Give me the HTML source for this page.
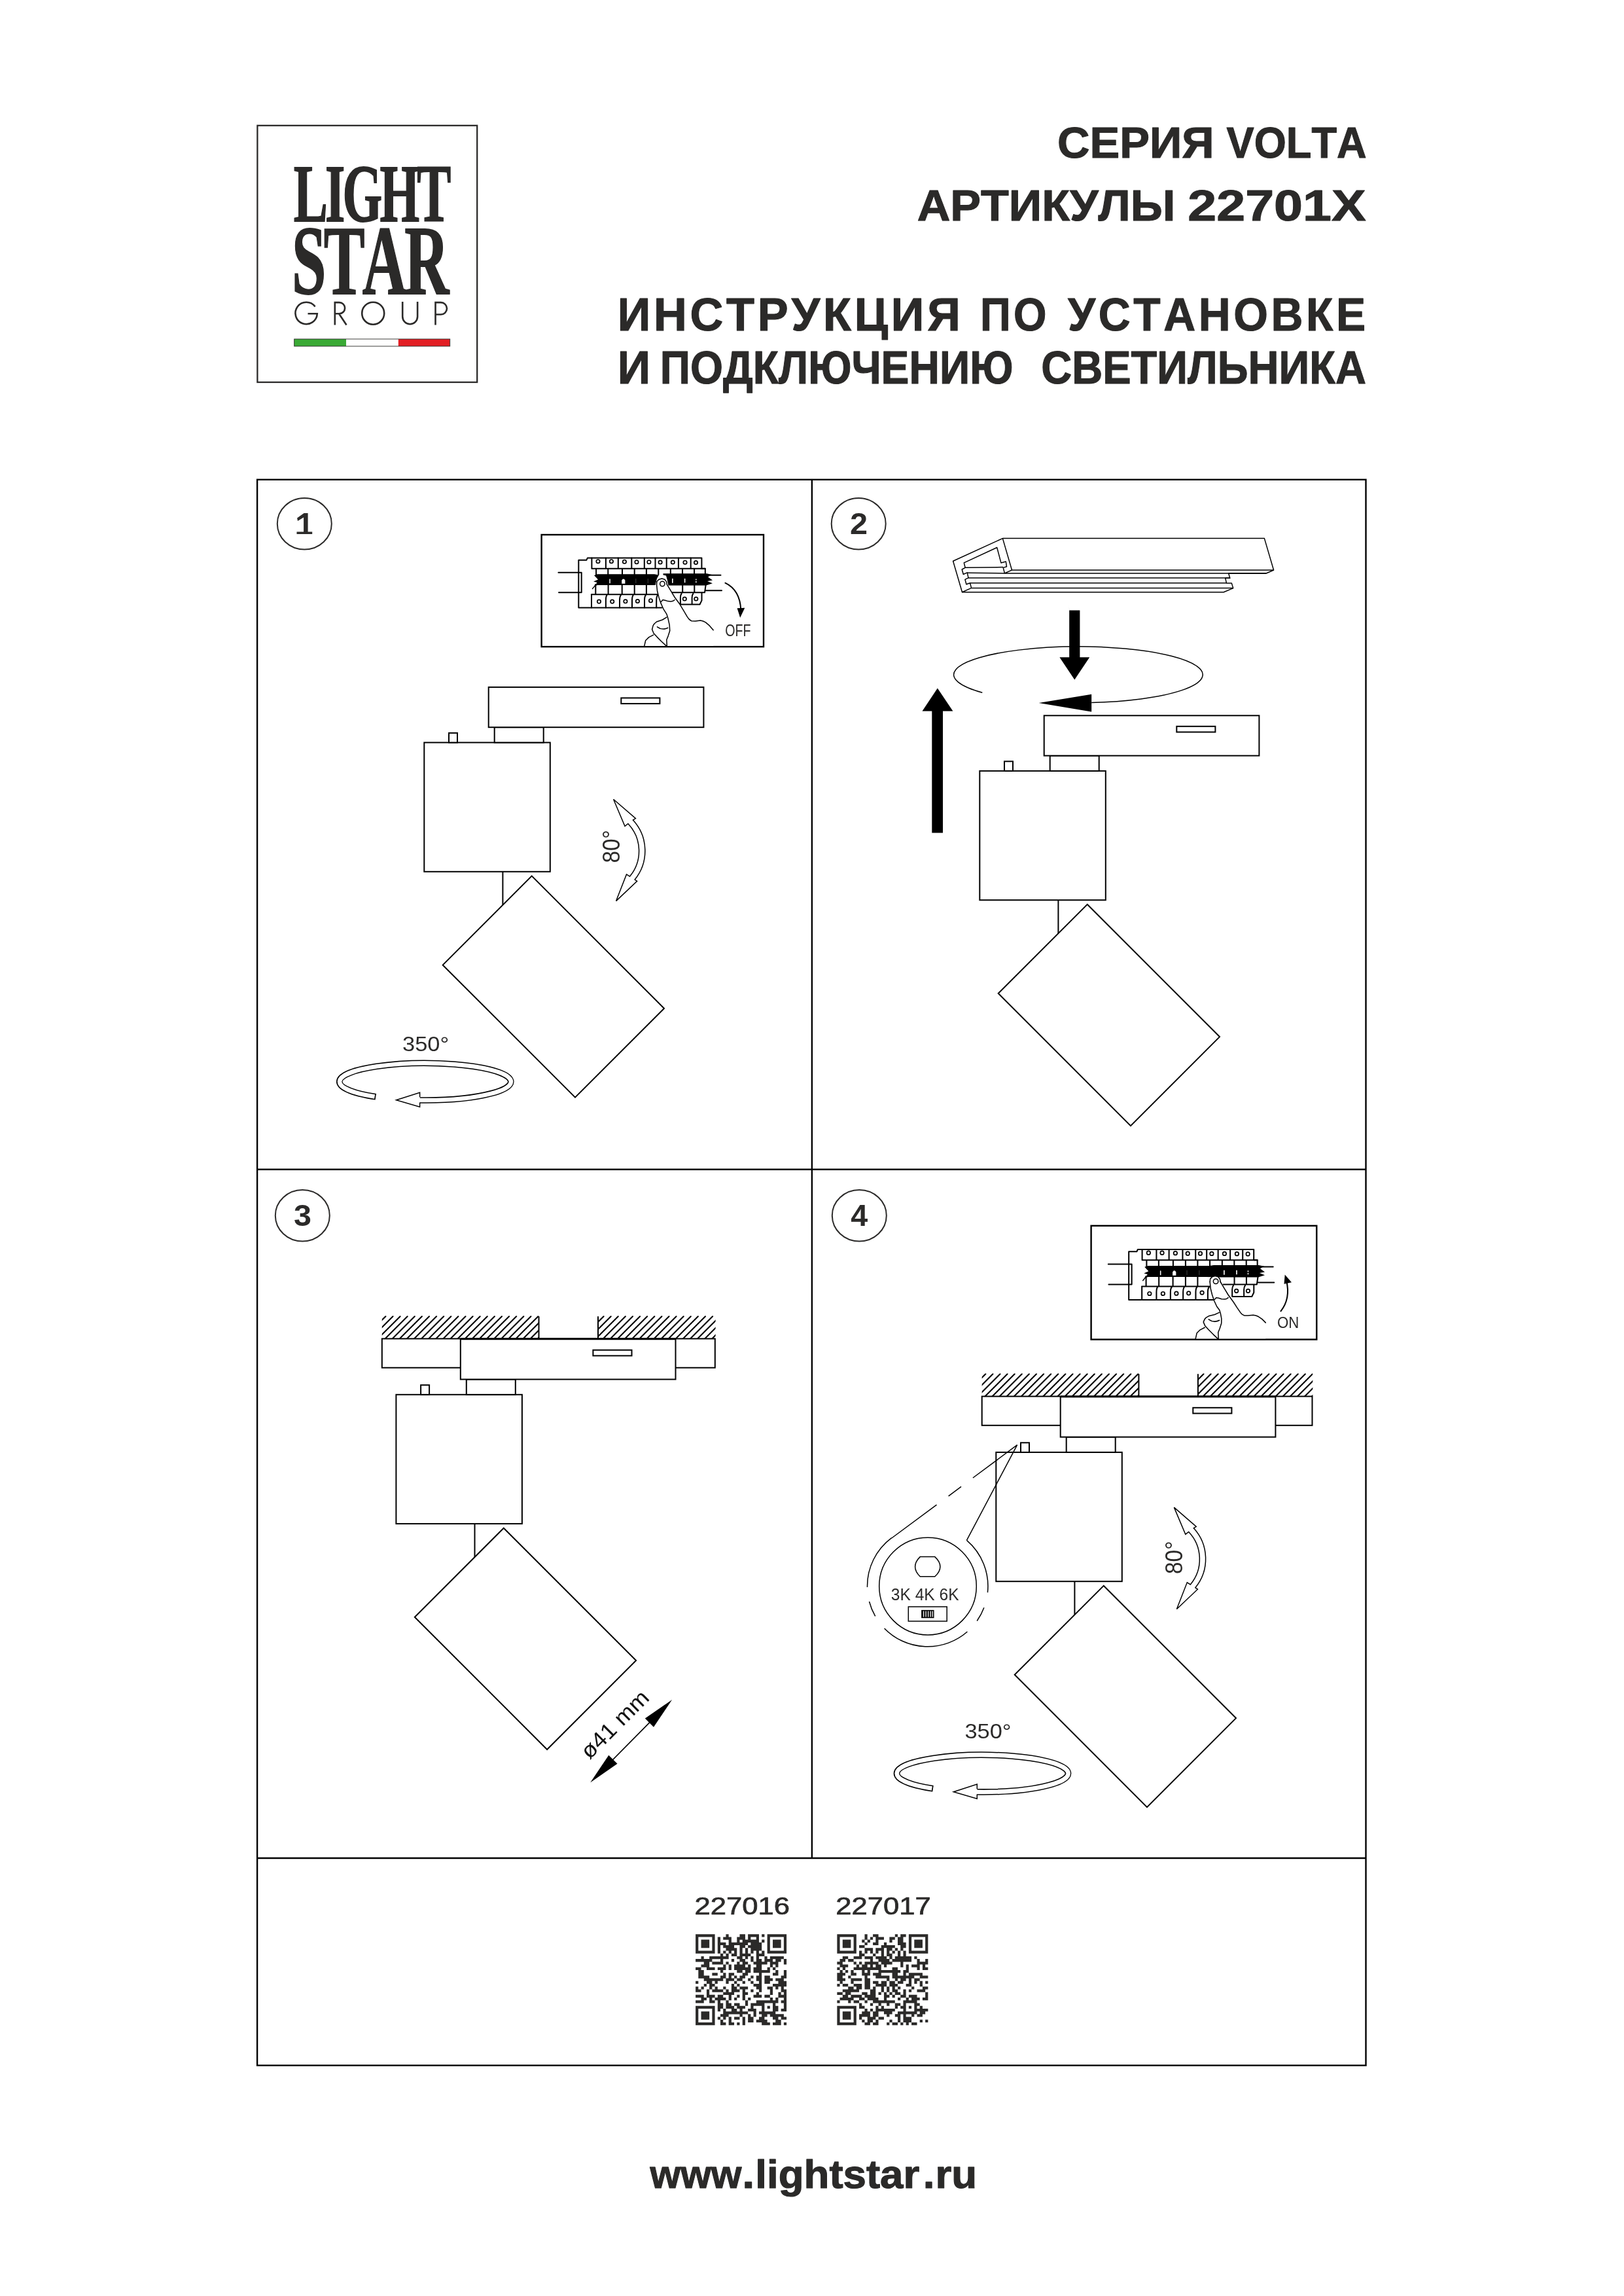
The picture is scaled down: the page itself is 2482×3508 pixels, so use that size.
<!DOCTYPE html>
<html lang="ru"><head><meta charset="utf-8"><title>VOLTA 22701X</title>
<style>
html,body{margin:0;padding:0;background:#fff;}
body{width:2482px;height:3508px;overflow:hidden;font-family:"Liberation Sans",sans-serif;}
svg{display:block;position:absolute;left:0;top:0;will-change:transform;}
text{font-kerning:none;white-space:pre;}
.k{fill:none;stroke:#000;stroke-width:2;stroke-linejoin:miter;}
.w{fill:#fff;stroke:#000;stroke-width:2;stroke-linejoin:miter;}
.f{fill:none;stroke:#000;stroke-width:2.4;}
.b{fill:none;stroke:#000;stroke-width:2;stroke-linejoin:round;stroke-linecap:round;}
.h{fill:none;stroke:#000;stroke-width:1.5;stroke-linejoin:round;stroke-linecap:round;}
</style></head><body>
<svg width="2482" height="3508" viewBox="0 0 2482 3508">
<rect width="2482" height="3508" fill="#fff"/>

<text transform="translate(1616.09,240.90) scale(1.0231,1)" font-family="Liberation Sans" font-weight="bold" font-size="67.01" fill="#2b2a29" stroke="#2b2a29" stroke-width="1.1" stroke-linejoin="round">СЕРИЯ</text>
<text transform="translate(1874.57,240.90) scale(0.9429,1)" font-family="Liberation Sans" font-weight="bold" font-size="67.01" fill="#2b2a29" stroke="#2b2a29" stroke-width="1.1" stroke-linejoin="round">VOLTA</text>
<text transform="translate(1401.65,337.10) scale(1.0440,1)" font-family="Liberation Sans" font-weight="bold" font-size="67.15" fill="#2b2a29" stroke="#2b2a29" stroke-width="1.1" stroke-linejoin="round">АРТИКУЛЫ</text>
<text transform="translate(1815.26,337.10) scale(1.1767,1)" font-family="Liberation Sans" font-weight="bold" font-size="67.15" fill="#2b2a29" stroke="#2b2a29" stroke-width="1.1" stroke-linejoin="round">22701X</text>
<text transform="translate(943.63,505.20) scale(0.9956,1)" font-family="Liberation Sans" font-weight="bold" font-size="70.64" fill="#2b2a29" letter-spacing="4.800" stroke="#2b2a29" stroke-width="1.1" stroke-linejoin="round">ИНСТРУКЦИЯ</text>
<text transform="translate(1497.96,505.20) scale(0.9190,1)" font-family="Liberation Sans" font-weight="bold" font-size="70.64" fill="#2b2a29" letter-spacing="4.800" stroke="#2b2a29" stroke-width="1.1" stroke-linejoin="round">ПО</text>
<text transform="translate(1631.97,505.20) scale(0.9592,1)" font-family="Liberation Sans" font-weight="bold" font-size="70.64" fill="#2b2a29" letter-spacing="4.800" stroke="#2b2a29" stroke-width="1.1" stroke-linejoin="round">УСТАНОВКЕ</text>
<text transform="translate(943.65,586.00) scale(0.9873,1)" font-family="Liberation Sans" font-weight="bold" font-size="70.93" fill="#2b2a29" stroke="#2b2a29" stroke-width="1.1" stroke-linejoin="round">И</text>
<text transform="translate(1008.80,586.00) scale(0.9064,1)" font-family="Liberation Sans" font-weight="bold" font-size="70.93" fill="#2b2a29" stroke="#2b2a29" stroke-width="1.1" stroke-linejoin="round">ПОДКЛЮЧЕНИЮ</text>
<text transform="translate(1591.13,586.00) scale(0.9177,1)" font-family="Liberation Sans" font-weight="bold" font-size="70.93" fill="#2b2a29" stroke="#2b2a29" stroke-width="1.1" stroke-linejoin="round">СВЕТИЛЬНИКА</text>
<text transform="translate(993.48,3343.30) scale(0.9926,1)" font-family="Liberation Sans" font-weight="bold" font-size="60.45" fill="#2b2a29" stroke="#2b2a29" stroke-width="1.1" stroke-linejoin="round">www</text>
<text transform="translate(1134.13,3343.30) scale(1.1372,1)" font-family="Liberation Sans" font-weight="bold" font-size="60.45" fill="#2b2a29" stroke="#2b2a29" stroke-width="1.1" stroke-linejoin="round">.</text>
<text transform="translate(1154.36,3343.30) scale(1.0522,1)" font-family="Liberation Sans" font-weight="bold" font-size="60.45" fill="#2b2a29" stroke="#2b2a29" stroke-width="1.1" stroke-linejoin="round">lightstar</text>
<text transform="translate(1410.67,3343.30) scale(1.0551,1)" font-family="Liberation Sans" font-weight="bold" font-size="60.45" fill="#2b2a29" stroke="#2b2a29" stroke-width="1.1" stroke-linejoin="round">.</text>
<text transform="translate(1429.41,3343.30) scale(1.0519,1)" font-family="Liberation Sans" font-weight="bold" font-size="60.45" fill="#2b2a29" stroke="#2b2a29" stroke-width="1.1" stroke-linejoin="round">ru</text>
<text transform="translate(1061.40,2924.80) scale(1.1682,1)" font-family="Liberation Sans" font-weight="normal" font-size="37.38" fill="#2b2a29" stroke="#2b2a29" stroke-width="0.7">227016</text>
<text transform="translate(1277.31,2924.80) scale(1.1664,1)" font-family="Liberation Sans" font-weight="normal" font-size="37.38" fill="#2b2a29" stroke="#2b2a29" stroke-width="0.7">227017</text>
<rect x="393.4" y="191.8" width="335.8" height="392.2" fill="none" stroke="#2b2a29" stroke-width="2.3"/>
<text transform="translate(448.67,337.70) scale(0.6275,1)" font-family="Liberation Serif" font-weight="bold" font-size="124.32" fill="#2b2a29" letter-spacing="-6.000" stroke="#2b2a29" stroke-width="1.8" stroke-linejoin="miter">LIGHT</text>
<text transform="translate(446.08,448.80) scale(0.6280,1)" font-family="Liberation Serif" font-weight="bold" font-size="150.13" fill="#2b2a29" letter-spacing="-6.000" stroke="#2b2a29" stroke-width="1.8" stroke-linejoin="miter">STAR</text>
<g fill="none" stroke="#2b2a29" stroke-width="2.6" id="group"><path d="M481.6,468.6 A16.7,16.7 0 1 0 484.8,479.2 H470.5"/><path d="M511.8,496.5 V462.1 H518.5 A8.6,8.6 0 0 1 518.5,479.3 H511.8 M518,479.3 L529.5,496.5"/><circle cx="570.2" cy="478.7" r="17"/><path d="M615.2,460.9 V483.8 A11.45,11.45 0 0 0 638.1,483.8 V460.9"/><path d="M665.5,496.5 V462.1 H673.8 A9.2,9.2 0 0 1 673.8,480.5 H665.5"/></g>
<rect x="449.7" y="518" width="79.3" height="11" fill="#3aaa35"/>
<rect x="608.8" y="518" width="78.9" height="11" fill="#e31e24"/>
<rect x="449.7" y="518" width="238" height="11" fill="none" stroke="#2b2a29" stroke-width="0.9"/>
<rect class="f" x="393.1" y="732.8" width="1694.4" height="2422.9"/>
<path class="f" d="M1240.9,732.8 V2839 M393.1,1786.8 H2087.5 M393.1,2839 H2087.5"/>
<ellipse cx="465.3" cy="800.2" rx="41.5" ry="39.2" fill="none" stroke="#2b2a29" stroke-width="2"/>
<ellipse cx="1312.2" cy="800.3" rx="41.5" ry="39.2" fill="none" stroke="#2b2a29" stroke-width="2"/>
<ellipse cx="462.3" cy="1857.3" rx="41.5" ry="39.2" fill="none" stroke="#2b2a29" stroke-width="2"/>
<ellipse cx="1313.3" cy="1857.3" rx="41.5" ry="39.2" fill="none" stroke="#2b2a29" stroke-width="2"/>
<path fill="#2b2a29" d="M470.6,784 H464.6 L454.1,791.4 L455,796 L464.1,790.6 V812.4 H453.5 V816 H477.2 V812.4 H470.6 Z"/>
<text transform="translate(1299.02,816.00) scale(1.0605,1)" font-family="Liberation Sans" font-weight="bold" font-size="45.83" fill="#2b2a29">2</text>
<text transform="translate(448.89,1873.40) scale(1.0546,1)" font-family="Liberation Sans" font-weight="bold" font-size="45.97" fill="#2b2a29">3</text>
<text transform="translate(1300.19,1873.00) scale(1.0066,1)" font-family="Liberation Sans" font-weight="bold" font-size="46.37" fill="#2b2a29">4</text>
<g transform="translate(746.7,1049.9)"><rect class="w" x="-98.4" y="84.6" width="192.5" height="197.3"/>
<rect class="w" x="-60.7" y="70" width="13" height="14.6"/>
<rect class="w" x="9" y="61.3" width="75" height="23.3"/>
<rect class="w" x="0" y="0" width="328.7" height="61.3"/>
<rect class="w" x="202.6" y="16.5" width="59.1" height="8.7"/>
<line class="k" x1="21.7" y1="281.9" x2="21.7" y2="333"/>
<polygon class="w" points="66,288.5 268.3,490.8 132.3,626.8 -70,424.5"/></g>
<g transform="translate(1595.7,1093.3)"><rect class="w" x="-98.4" y="84.6" width="192.5" height="197.3"/>
<rect class="w" x="-60.7" y="70" width="13" height="14.6"/>
<rect class="w" x="9" y="61.3" width="75" height="23.3"/>
<rect class="w" x="0" y="0" width="328.7" height="61.3"/>
<rect class="w" x="202.6" y="16.5" width="59.1" height="8.7"/>
<line class="k" x1="21.7" y1="281.9" x2="21.7" y2="333"/>
<polygon class="w" points="66,288.5 268.3,490.8 132.3,626.8 -70,424.5"/></g>
<g id="brk1"><rect x="827.6" y="817.0" width="339.4" height="171.1" fill="#fff" stroke="#000" stroke-width="2.4"/>
<path class="b" d="M853.4,874.7 H888.7 V905.3 H854"/>
<path class="b" d="M1011.5,928.4 H884.3 V855.8 H896.3 L897.8,852.6 H1072.4 V868.7 H1077.8 V877"/>
<path class="b" d="M904.4,852.6 V868.7 M925.9,852.6 V868.7 M944.8,852.6 V868.7 M965.3,852.6 V868.7 M984.8,852.6 V868.7 M1001.5,852.6 V868.7 M1018.7,852.6 V868.7 M1036.9,852.6 V868.7 M1055.7,852.6 V868.7 M904.4,868.7 H1077.8 M911.1,868.7 V878 M929.3,868.7 V878 M951,868.7 V878 M969.7,868.7 V878 M987.9,868.7 V878 M1006.3,868.7 V878 M1024.8,868.7 V878 M1043,868.7 V878 M1061.1,868.7 V878 M910.3,893 V908.3 M929.6,893 V908.3 M950.7,893 V908.3 M969.7,893 V908.3 M987.9,893 V908.3 M1043.2,893 V905.3 M1061.3,893 V905.3 M903.8,908.3 H1006 M1026.6,905.3 H1077 L1078.6,894 M1080,878.7 H1101.5 M1078.8,902.3 H1103 M904,908.3 V928.4 M927.9,908.6 Q925.9,911 925.9,917 V928.4 M949.5,908.6 Q947,911 947,917 V928.4 M968.2,908.6 Q966,911 966,917 V928.4 M987.4,908.6 Q985,911 985,917 V928.4 M1005.7,908.6 Q1003.2,911 1003.2,917 V928.4 M1041.6,907 Q1039.9,909 1039.9,913 V923.5 H1069.5 L1072.5,917.4 V906 M1059.4,907 Q1057.6,909 1057.6,913 V923.5 "/>
<circle cx="914" cy="857.7" r="2.7" fill="#fff" stroke="#000" stroke-width="1.7"/>
<circle cx="934.4" cy="857.7" r="2.7" fill="#fff" stroke="#000" stroke-width="1.7"/>
<circle cx="954.4" cy="858.2" r="2.7" fill="#fff" stroke="#000" stroke-width="1.7"/>
<circle cx="973" cy="858.7" r="2.7" fill="#fff" stroke="#000" stroke-width="1.7"/>
<circle cx="991.9" cy="858.7" r="2.7" fill="#fff" stroke="#000" stroke-width="1.7"/>
<circle cx="1009.1" cy="859" r="2.7" fill="#fff" stroke="#000" stroke-width="1.7"/>
<circle cx="1028.3" cy="859" r="2.7" fill="#fff" stroke="#000" stroke-width="1.7"/>
<circle cx="1047" cy="859.2" r="2.7" fill="#fff" stroke="#000" stroke-width="1.7"/>
<circle cx="1063.5" cy="859.5" r="2.7" fill="#fff" stroke="#000" stroke-width="1.7"/>
<circle cx="915.5" cy="919.1" r="2.7" fill="#fff" stroke="#000" stroke-width="1.7"/>
<circle cx="935.7" cy="919.1" r="2.7" fill="#fff" stroke="#000" stroke-width="1.7"/>
<circle cx="955.9" cy="918.8" r="2.7" fill="#fff" stroke="#000" stroke-width="1.7"/>
<circle cx="974.4" cy="918.5" r="2.7" fill="#fff" stroke="#000" stroke-width="1.7"/>
<circle cx="994.5" cy="917.7" r="2.7" fill="#fff" stroke="#000" stroke-width="1.7"/>
<circle cx="1046.3" cy="915" r="2.7" fill="#fff" stroke="#000" stroke-width="1.7"/>
<circle cx="1063.8" cy="915" r="2.7" fill="#fff" stroke="#000" stroke-width="1.7"/>
<path fill="#000" d="M908,879 L913,877.2 L1000,877.3 L1007,878.6 L1004,884 L1001.5,893.9 L913,894 L908.5,896 L912.5,890 L907,888.5 L914,885.5 Z"/>
<path fill="#000" d="M1013.5,876.3 L1080,876.3 L1088,878 L1082,881.5 L1089,886.5 L1081,888 L1089,891.3 L1079,894.5 L1021.5,894.5 L1019.8,886 L1018,879.5 L1013.5,878.5 Z"/>
<path class="h" d="M910,893.5 Q908,897 905.5,899.5"/>
<path fill="#fff" d="M931.3,891.2 V885 Q932,883.6 932.8,885 V891.2 Z M950.2,891.7 V886.5 Q952.8,882.5 955.4,886.5 V891.7 Z"/>
<path stroke="#fff" fill="none" stroke-width="1.6" d="M1027.8,884 V890.8 M1046.6,884 V890.2"/>
<path stroke="#fff" fill="none" stroke-width="1.4" d="M1063.8,884.5 V886.6 M1063.8,888 V890.2"/>
<path stroke="#fff" fill="none" stroke-width="0.5" opacity="0.5" d="M971.8,884 V891 M990.3,884 V891"/>
<polygon fill="#fff" points="1003.5,892.8 1003.9,888.5 1007.0,885.2 1011.5,884.0 1015.8,885.2 1018.5,888.6 1019.3,892.8 1025.2,902.7 1031.1,912.5 1039.0,923.3 1044.9,933.2 1050.8,943.1 1053.5,946.5 1057.0,948.8 1062.6,949.0 1070.5,948.0 1074.5,949.0 1078.4,950.9 1084.3,955.9 1090.2,962.8 1090.2,986.9 984.8,986.9 986.7,978.5 991.7,973.6 998.6,970.1 999.1,967.7 996.6,961.8 998.1,955.9 1003.5,950.0 1012.4,947.0 1018.8,943.1 1014.3,931.2 1009.9,921.4 1006.9,912.5 1004.5,902.7"/>
<polyline class="h" points="1003.5,892.8 1004.5,902.7 1006.9,912.5 1009.9,921.4 1014.3,931.2 1018.8,938.1 1020.7,944.0 1023.2,954.9 1023.7,963.7 1021.2,971.6 1018.8,977.5 1019.3,986.9"/>
<polyline class="h" points="1003.5,892.8 1003.9,888.5 1007.0,885.2 1011.5,884.0 1015.8,885.2 1018.5,888.6 1019.3,892.8"/>
<polyline class="h" points="1019.3,892.8 1025.2,902.7 1031.1,912.5 1039.0,923.3 1044.9,933.2 1050.8,943.1 1053.5,946.5 1057.0,948.8 1062.6,949.0 1070.5,948.0 1074.5,949.0 1078.4,950.9 1084.3,955.9 1090.2,962.8"/>
<polyline class="h" points="1018.8,943.1 1012.4,947.0 1003.5,950.0 1000.0,953.0 998.1,955.9 996.6,961.8 999.1,967.7 1004.5,973.6 1011.4,980.5 1018.3,986.9"/>
<polyline class="h" points="998.6,970.1 991.7,973.6 986.7,978.5 984.8,986.9"/>
<circle cx="1012.3" cy="892.0" r="3.7" fill="#fff" stroke="#000" stroke-width="1.5"/>
<polyline class="h" points="1010.4,919.4 1013.0,916.6 1016.5,917.2 1021.0,918.6 1025.2,918.9 1028.5,918.3 1031.1,916.5"/>
<path class="h" d="M1004.5,957.8 Q1012,963.5 1020.7,959.3"/>
<path class="b" d="M1108.4,890.7 Q1131,901.5 1132.3,932"/>
<polygon fill="#000" points="1126.6,929.3 1138.3,928.7 1131.2,943.8"/>
<text transform="translate(1108.27,971.80) scale(0.7890,1)" font-family="Liberation Sans" font-weight="normal" font-size="24.86" fill="#2b2a29">OFF</text></g>
<g id="brk4" transform="translate(1667.6,1872.8) scale(1.0155) translate(-827.6,-817.0)"><rect x="827.6" y="817.0" width="339.4" height="171.1" fill="#fff" stroke="#000" stroke-width="2.4"/>
<path class="b" d="M853.4,874.7 H888.7 V905.3 H854"/>
<path class="b" d="M1011.5,928.4 H884.3 V855.8 H896.3 L897.8,852.6 H1072.4 V868.7 H1077.8 V877"/>
<path class="b" d="M904.4,852.6 V868.7 M925.9,852.6 V868.7 M944.8,852.6 V868.7 M965.3,852.6 V868.7 M984.8,852.6 V868.7 M1001.5,852.6 V868.7 M1018.7,852.6 V868.7 M1036.9,852.6 V868.7 M1055.7,852.6 V868.7 M904.4,868.7 H1077.8 M911.1,868.7 V878 M929.3,868.7 V878 M951,868.7 V878 M969.7,868.7 V878 M987.9,868.7 V878 M1006.3,868.7 V878 M1024.8,868.7 V878 M1043,868.7 V878 M1061.1,868.7 V878 M910.3,893 V908.3 M929.6,893 V908.3 M950.7,893 V908.3 M969.7,893 V908.3 M987.9,893 V908.3 M1043.2,893 V905.3 M1061.3,893 V905.3 M903.8,908.3 H1006 M1026.6,905.3 H1077 L1078.6,894 M1080,878.7 H1101.5 M1078.8,902.3 H1103 M904,908.3 V928.4 M927.9,908.6 Q925.9,911 925.9,917 V928.4 M949.5,908.6 Q947,911 947,917 V928.4 M968.2,908.6 Q966,911 966,917 V928.4 M987.4,908.6 Q985,911 985,917 V928.4 M1005.7,908.6 Q1003.2,911 1003.2,917 V928.4 M1041.6,907 Q1039.9,909 1039.9,913 V923.5 H1069.5 L1072.5,917.4 V906 M1059.4,907 Q1057.6,909 1057.6,913 V923.5 "/>
<circle cx="914" cy="857.7" r="2.7" fill="#fff" stroke="#000" stroke-width="1.7"/>
<circle cx="934.4" cy="857.7" r="2.7" fill="#fff" stroke="#000" stroke-width="1.7"/>
<circle cx="954.4" cy="858.2" r="2.7" fill="#fff" stroke="#000" stroke-width="1.7"/>
<circle cx="973" cy="858.7" r="2.7" fill="#fff" stroke="#000" stroke-width="1.7"/>
<circle cx="991.9" cy="858.7" r="2.7" fill="#fff" stroke="#000" stroke-width="1.7"/>
<circle cx="1009.1" cy="859" r="2.7" fill="#fff" stroke="#000" stroke-width="1.7"/>
<circle cx="1028.3" cy="859" r="2.7" fill="#fff" stroke="#000" stroke-width="1.7"/>
<circle cx="1047" cy="859.2" r="2.7" fill="#fff" stroke="#000" stroke-width="1.7"/>
<circle cx="1063.5" cy="859.5" r="2.7" fill="#fff" stroke="#000" stroke-width="1.7"/>
<circle cx="915.5" cy="919.1" r="2.7" fill="#fff" stroke="#000" stroke-width="1.7"/>
<circle cx="935.7" cy="919.1" r="2.7" fill="#fff" stroke="#000" stroke-width="1.7"/>
<circle cx="955.9" cy="918.8" r="2.7" fill="#fff" stroke="#000" stroke-width="1.7"/>
<circle cx="974.4" cy="918.5" r="2.7" fill="#fff" stroke="#000" stroke-width="1.7"/>
<circle cx="994.5" cy="917.7" r="2.7" fill="#fff" stroke="#000" stroke-width="1.7"/>
<circle cx="1046.3" cy="915" r="2.7" fill="#fff" stroke="#000" stroke-width="1.7"/>
<circle cx="1063.8" cy="915" r="2.7" fill="#fff" stroke="#000" stroke-width="1.7"/>
<path fill="#000" d="M908,879 L913,877.2 L1006,877.3 L1012,876.3 L1080,876.3 L1088,878 L1082,881.5 L1089,886.5 L1081,888 L1089,891.3 L1079,894.5 L1021,894.5 L1001,893.9 L913,894 L908.5,896 L912.5,890 L907,888.5 L914,885.5 Z"/>
<path class="h" d="M910,893.5 Q908,897 905.5,899.5"/>
<path fill="#fff" d="M931.3,891.2 V885 Q932,883.6 932.8,885 V891.2 Z M950.2,891.7 V886.5 Q952.8,882.5 955.4,886.5 V891.7 Z"/>
<path stroke="#fff" fill="none" stroke-width="1.6" d="M1027.8,884 V890.8 M1046.6,884 V890.2"/>
<path stroke="#fff" fill="none" stroke-width="1.4" d="M1063.8,884.5 V886.6 M1063.8,888 V890.2"/>
<path stroke="#fff" fill="none" stroke-width="0.5" opacity="0.5" d="M971.8,884 V891 M990.3,884 V891"/>
<polygon fill="#fff" points="1006.4,901.4 1006.8,897.1 1009.9,893.8 1014.4,892.6 1018.7,893.8 1021.4,897.2 1022.2,901.4 1028.1,911.3 1034.0,921.1 1041.9,931.9 1047.2,940.1 1052.3,947.6 1054.7,950.2 1058.1,952.0 1063.6,952.1 1071.6,951.3 1075.5,952.1 1079.3,953.6 1084.8,957.4 1090.2,962.8 1090.2,986.9 984.8,986.9 986.7,978.5 991.7,973.6 998.6,970.1 999.1,967.7 996.6,961.8 998.6,957.4 1004.5,952.9 1013.6,950.6 1020.3,947.6 1016.8,938.6 1012.8,930.0 1009.8,921.1 1007.4,911.3"/>
<polyline class="h" points="1006.4,901.4 1007.4,911.3 1009.8,921.1 1012.8,930.0 1016.8,938.6 1020.7,943.8 1022.2,948.3 1023.8,956.6 1023.7,963.7 1021.2,971.6 1018.8,977.5 1019.3,986.9"/>
<polyline class="h" points="1006.4,901.4 1006.8,897.1 1009.9,893.8 1014.4,892.6 1018.7,893.8 1021.4,897.2 1022.2,901.4"/>
<polyline class="h" points="1022.2,901.4 1028.1,911.3 1034.0,921.1 1041.9,931.9 1047.2,940.1 1052.3,947.6 1054.7,950.2 1058.1,952.0 1063.6,952.1 1071.6,951.3 1075.5,952.1 1079.3,953.6 1084.8,957.4 1090.2,962.8"/>
<polyline class="h" points="1020.3,947.6 1013.6,950.6 1004.5,952.9 1000.7,955.1 998.6,957.4 996.6,961.8 999.1,967.7 1004.5,973.6 1011.4,980.5 1018.3,986.9"/>
<polyline class="h" points="998.6,970.1 991.7,973.6 986.7,978.5 984.8,986.9"/>
<circle cx="1015.2" cy="900.6" r="3.7" fill="#fff" stroke="#000" stroke-width="1.5"/>
<polyline class="h" points="1013.3,928.0 1015.9,925.2 1019.4,925.8 1023.9,927.2 1028.1,927.5 1031.4,926.9 1034.0,925.1"/>
<path class="h" d="M1004.5,957.8 Q1012,963.5 1020.7,959.3"/>
<path class="b" d="M1113,945.5 Q1128,927 1121.5,899.5"/>
<polygon fill="#000" points="1119.2,890.5 1129.3,902.2 1118,904.5"/>
<text transform="translate(1107.56,970.90) scale(0.9350,1)" font-family="Liberation Sans" font-weight="normal" font-size="23.40" fill="#2b2a29">ON</text></g>
<g transform="translate(0,0)"><path d="M574.29,1675.83 A131.0,28.3 0 1 1 641.35,1680.94" fill="none" stroke="#000" stroke-width="9.6"/><path d="M572.62,1675.57 A131.0,28.3 0 1 1 639.35,1680.94" fill="none" stroke="#fff" stroke-width="6.6"/><path d="M641.6,1676.3 V1669.2 L605.6,1680.8 L641.6,1691.3 V1684.6" fill="#fff" stroke="#000" stroke-width="1.5" stroke-linejoin="miter"/></g>
<text transform="translate(615.09,1606.40) scale(1.0961,1)" font-family="Liberation Sans" font-weight="normal" font-size="31.40" fill="#2b2a29">350°</text>
<path transform="translate(0,0)" fill="#fff" stroke="#000" stroke-width="1.5" stroke-linejoin="miter" d="M937.6,1221.2 L971.4,1250.5 L967.5,1252.9 A69.4,69.4 0 0 1 970.1,1343.9 L973.6,1346.3 L941.6,1376.6 L957.5,1335.9 L962.5,1339.1 A60.6,60.6 0 0 0 959.9,1258.5 L955,1262.3 Z"/>
<g transform="translate(946.6,1317.1) rotate(-90)"><text transform="translate(-1.45,0.00) scale(0.9065,1)" font-family="Liberation Sans" font-weight="normal" font-size="36.81" fill="#2b2a29">80°</text></g>

<g class="k" style="stroke-width:1.5;stroke-linejoin:round">
<path class="w" style="stroke-width:1.5;stroke-linejoin:round" d="M1456.6,857.2 L1532.4,822.6 L1932.4,822.6 L1946.6,871 L1935.2,876 L1877.6,876 L1879.8,883.3 L1872.7,883.3 L1874.5,890.9 L1882.3,890.9 L1884.7,898.6 L1870.2,904.8 L1470.5,904.8 Z"/>
<path d="M1532.4,822.6 L1546.5,871 H1946.6"/>
<path d="M1546.5,871 L1535.4,875.9 H1935.2"/>
<path d="M1535.4,875.9 L1533.2,867.4 L1538.5,865.7 L1537.3,858 L1529.9,859.9 L1523.7,836.5 L1473.3,859.9 L1475.1,867.3 L1470.2,870 L1472.3,877.5 L1478.2,874.9 L1480,882.9 L1474.9,885.4 L1476.9,892.8 L1482.5,890.7 L1484.6,898.4 L1470.5,904.8"/>
<path d="M1475.1,867.3 L1533.2,866.6"/>
<path d="M1478.2,875.2 L1535.4,875.9"/>
<path d="M1480,883 H1879.8"/>
<path d="M1482.5,890.8 H1874.5"/>
<path d="M1484.6,898.5 H1884.7"/>
</g>

<path d="M1501.3,1058.2 A190.3,42.9 0 1 1 1668.2,1073.5" fill="none" stroke="#000" stroke-width="1.5"/>
<polygon points="1587.6,1073.9 1668.2,1060.7 1668.2,1087.6" fill="#000"/>
<path fill="#000" d="M1633.4,924.5 L1634.3,932.5 H1650.4 V1004.2 H1665.2 L1642.3,1038.6 L1619.4,1004.2 H1634.2 V932 Z"/>
<path fill="#000" d="M1432.8,1051.5 L1456.4,1086.6 H1441 V1272.4 H1424.3 V1086.6 H1409.5 Z"/>
<g transform="translate(703.8,2046.2)"><clipPath id="c703a"><rect x="-120.0" y="-36.0" width="239.7" height="35.2"/></clipPath><clipPath id="c703b"><rect x="210.2" y="-36.0" width="179.60000000000002" height="35.2"/></clipPath><path clip-path="url(#c703a)" d="M-148.60,-0.8 L-114.40,-35.0 M-137.50,-0.8 L-103.30,-35.0 M-126.40,-0.8 L-92.20,-35.0 M-115.30,-0.8 L-81.10,-35.0 M-104.20,-0.8 L-70.00,-35.0 M-93.10,-0.8 L-58.90,-35.0 M-82.00,-0.8 L-47.80,-35.0 M-70.90,-0.8 L-36.70,-35.0 M-59.80,-0.8 L-25.60,-35.0 M-48.70,-0.8 L-14.50,-35.0 M-37.60,-0.8 L-3.40,-35.0 M-26.50,-0.8 L7.70,-35.0 M-15.40,-0.8 L18.80,-35.0 M-4.30,-0.8 L29.90,-35.0 M6.80,-0.8 L41.00,-35.0 M17.90,-0.8 L52.10,-35.0 M29.00,-0.8 L63.20,-35.0 M40.10,-0.8 L74.30,-35.0 M51.20,-0.8 L85.40,-35.0 M62.30,-0.8 L96.50,-35.0 M73.40,-0.8 L107.60,-35.0 M84.50,-0.8 L118.70,-35.0 M95.60,-0.8 L129.80,-35.0 M106.70,-0.8 L140.90,-35.0 M117.80,-0.8 L152.00,-35.0 " fill="none" stroke="#000" stroke-width="2.1" stroke-linecap="round"/><path clip-path="url(#c703b)" d="M184.60,-0.8 L218.80,-35.0 M195.70,-0.8 L229.90,-35.0 M206.80,-0.8 L241.00,-35.0 M217.90,-0.8 L252.10,-35.0 M229.00,-0.8 L263.20,-35.0 M240.10,-0.8 L274.30,-35.0 M251.20,-0.8 L285.40,-35.0 M262.30,-0.8 L296.50,-35.0 M273.40,-0.8 L307.60,-35.0 M284.50,-0.8 L318.70,-35.0 M295.60,-0.8 L329.80,-35.0 M306.70,-0.8 L340.90,-35.0 M317.80,-0.8 L352.00,-35.0 M328.90,-0.8 L363.10,-35.0 M340.00,-0.8 L374.20,-35.0 M351.10,-0.8 L385.30,-35.0 M362.20,-0.8 L396.40,-35.0 M373.30,-0.8 L407.50,-35.0 M384.40,-0.8 L418.60,-35.0 " fill="none" stroke="#000" stroke-width="2.1" stroke-linecap="round"/><rect class="w" x="-120.0" y="-0.8" width="509.0" height="44.3"/><path class="k" d="M119.7,-35.0 V-0.8 M210.2,-35.0 V-0.8"/><path d="M0,-0.3 H328.7" stroke="#000" stroke-width="3.6" fill="none"/></g>
<g transform="translate(703.8,2046.2)"><rect class="w" x="-98.4" y="84.6" width="192.5" height="197.3"/>
<rect class="w" x="-60.7" y="70" width="13" height="14.6"/>
<rect class="w" x="9" y="61.3" width="75" height="23.3"/>
<rect class="w" x="0" y="0" width="328.7" height="61.3"/>
<rect class="w" x="202.6" y="16.5" width="59.1" height="8.7"/>
<line class="k" x1="21.7" y1="281.9" x2="21.7" y2="333"/>
<polygon class="w" points="66,288.5 268.3,490.8 132.3,626.8 -70,424.5"/></g>
<path d="M1020,2604.2 L909.5,2716" stroke="#000" stroke-width="1.7" fill="none"/>
<polygon fill="#000" points="1027.1,2597.0 999.0,2638.7 985.8,2625.6"/>
<polygon fill="#000" points="902.2,2723.4 930.3,2681.7 943.5,2694.8"/>
<g transform="translate(901.5,2688.8) rotate(-45)"><text transform="translate(-0.77,0.00) scale(1.0670,1)" font-family="Liberation Sans" font-weight="normal" font-size="33.72" fill="#111">ø41 mm</text></g>
<g transform="translate(1620.7,2134.3)"><clipPath id="c1620a"><rect x="-120.0" y="-36.0" width="239.7" height="35.2"/></clipPath><clipPath id="c1620b"><rect x="210.2" y="-36.0" width="175.40000000000003" height="35.2"/></clipPath><path clip-path="url(#c1620a)" d="M-148.60,-0.8 L-114.40,-35.0 M-137.50,-0.8 L-103.30,-35.0 M-126.40,-0.8 L-92.20,-35.0 M-115.30,-0.8 L-81.10,-35.0 M-104.20,-0.8 L-70.00,-35.0 M-93.10,-0.8 L-58.90,-35.0 M-82.00,-0.8 L-47.80,-35.0 M-70.90,-0.8 L-36.70,-35.0 M-59.80,-0.8 L-25.60,-35.0 M-48.70,-0.8 L-14.50,-35.0 M-37.60,-0.8 L-3.40,-35.0 M-26.50,-0.8 L7.70,-35.0 M-15.40,-0.8 L18.80,-35.0 M-4.30,-0.8 L29.90,-35.0 M6.80,-0.8 L41.00,-35.0 M17.90,-0.8 L52.10,-35.0 M29.00,-0.8 L63.20,-35.0 M40.10,-0.8 L74.30,-35.0 M51.20,-0.8 L85.40,-35.0 M62.30,-0.8 L96.50,-35.0 M73.40,-0.8 L107.60,-35.0 M84.50,-0.8 L118.70,-35.0 M95.60,-0.8 L129.80,-35.0 M106.70,-0.8 L140.90,-35.0 M117.80,-0.8 L152.00,-35.0 " fill="none" stroke="#000" stroke-width="2.1" stroke-linecap="round"/><path clip-path="url(#c1620b)" d="M184.60,-0.8 L218.80,-35.0 M195.70,-0.8 L229.90,-35.0 M206.80,-0.8 L241.00,-35.0 M217.90,-0.8 L252.10,-35.0 M229.00,-0.8 L263.20,-35.0 M240.10,-0.8 L274.30,-35.0 M251.20,-0.8 L285.40,-35.0 M262.30,-0.8 L296.50,-35.0 M273.40,-0.8 L307.60,-35.0 M284.50,-0.8 L318.70,-35.0 M295.60,-0.8 L329.80,-35.0 M306.70,-0.8 L340.90,-35.0 M317.80,-0.8 L352.00,-35.0 M328.90,-0.8 L363.10,-35.0 M340.00,-0.8 L374.20,-35.0 M351.10,-0.8 L385.30,-35.0 M362.20,-0.8 L396.40,-35.0 M373.30,-0.8 L407.50,-35.0 M384.40,-0.8 L418.60,-35.0 " fill="none" stroke="#000" stroke-width="2.1" stroke-linecap="round"/><rect class="w" x="-120.0" y="-0.8" width="504.8" height="44.3"/><path class="k" d="M119.7,-35.0 V-0.8 M210.2,-35.0 V-0.8"/><path d="M0,-0.3 H328.7" stroke="#000" stroke-width="3.6" fill="none"/></g>
<g transform="translate(1620.7,2134.3)"><rect class="w" x="-98.4" y="84.6" width="192.5" height="197.3"/>
<rect class="w" x="-60.7" y="70" width="13" height="14.6"/>
<rect class="w" x="9" y="61.3" width="75" height="23.3"/>
<rect class="w" x="0" y="0" width="328.7" height="61.3"/>
<rect class="w" x="202.6" y="16.5" width="59.1" height="8.7"/>
<line class="k" x1="21.7" y1="281.9" x2="21.7" y2="333"/>
<polygon class="w" points="66,288.5 268.3,490.8 132.3,626.8 -70,424.5"/></g>
<g transform="translate(851.7,1056.9)"><path d="M574.29,1675.83 A131.0,28.3 0 1 1 641.35,1680.94" fill="none" stroke="#000" stroke-width="9.6"/><path d="M572.62,1675.57 A131.0,28.3 0 1 1 639.35,1680.94" fill="none" stroke="#fff" stroke-width="6.6"/><path d="M641.6,1676.3 V1669.2 L605.6,1680.8 L641.6,1691.3 V1684.6" fill="#fff" stroke="#000" stroke-width="1.5" stroke-linejoin="miter"/></g>
<text transform="translate(1474.39,2656.40) scale(1.0961,1)" font-family="Liberation Sans" font-weight="normal" font-size="31.40" fill="#2b2a29">350°</text>
<path transform="translate(856.8,1081.9)" fill="#fff" stroke="#000" stroke-width="1.5" stroke-linejoin="miter" d="M937.6,1221.2 L971.4,1250.5 L967.5,1252.9 A69.4,69.4 0 0 1 970.1,1343.9 L973.6,1346.3 L941.6,1376.6 L957.5,1335.9 L962.5,1339.1 A60.6,60.6 0 0 0 959.9,1258.5 L955,1262.3 Z"/>
<g transform="translate(1806.6,2403.5) rotate(-90)"><text transform="translate(-1.45,0.00) scale(0.9065,1)" font-family="Liberation Sans" font-weight="normal" font-size="36.81" fill="#2b2a29">80°</text></g>
<circle cx="1418" cy="2423.6" r="74.3" fill="#fff" stroke="#000" stroke-width="1.5"/>
<path d="M1362.7,2349.6 A92.2,92.2 0 0 0 1325.5,2424.9 M1328.5,2447.0 A92.2,92.2 0 0 0 1337.7,2469.4 M1351.6,2487.9 A92.2,92.2 0 0 0 1478.4,2493.0 M1493.2,2476.5 A92.2,92.2 0 0 0 1503.9,2456.3 M1509.4,2433.2 A92.2,92.2 0 0 0 1477.7,2353.6 M1477.3,2353.6 L1554.6,2207.7 L1486.9,2258 M1469,2271.4 L1449.6,2285.9 M1431.5,2299.2 L1362.8,2350 " fill="none" stroke="#000" stroke-width="1.5" stroke-linejoin="miter"/>
<path d="M1406.2,2378.6 H1428.8 Q1445,2393.6 1428.8,2408.7 H1406.2 Q1391,2393.6 1406.2,2378.6 Z" fill="none" stroke="#000" stroke-width="1.5"/>
<text transform="translate(1361.87,2444.50) scale(0.9228,1)" font-family="Liberation Sans" font-weight="normal" font-size="26.60" fill="#2b2a29">3K 4K 6K</text>
<rect x="1388.3" y="2454.9" width="58.9" height="22.1" fill="#fff" stroke="#000" stroke-width="1.5"/>
<rect x="1408.1" y="2459.9" width="19.4" height="12.3" fill="#000"/>
<path d="M1411.6,2461.6 V2470.6 M1415.1,2461.6 V2470.6 M1418.6,2461.6 V2470.6 M1422.1,2461.6 V2470.6 M1425.2,2461.6 V2470.6" stroke="#fff" stroke-width="1.3" fill="none"/>
<path fill="#2b2a29" d="M1063.10,2955.20h29.48v4.27h-29.48zM1109.43,2955.20h4.21v4.27h-4.21zM1130.49,2955.20h8.42v4.27h-8.42zM1143.13,2955.20h16.85v4.27h-16.85zM1164.19,2955.20h4.21v4.27h-4.21zM1172.62,2955.20h29.48v4.27h-29.48zM1063.10,2959.41h4.21v4.27h-4.21zM1088.37,2959.41h4.21v4.27h-4.21zM1096.80,2959.41h4.21v4.27h-4.21zM1105.22,2959.41h12.64v4.27h-12.64zM1126.28,2959.41h12.64v4.27h-12.64zM1143.13,2959.41h4.21v4.27h-4.21zM1155.77,2959.41h4.21v4.27h-4.21zM1172.62,2959.41h4.21v4.27h-4.21zM1197.89,2959.41h4.21v4.27h-4.21zM1063.10,2963.62h4.21v4.27h-4.21zM1071.52,2963.62h12.64v4.27h-12.64zM1088.37,2963.62h4.21v4.27h-4.21zM1096.80,2963.62h4.21v4.27h-4.21zM1113.65,2963.62h4.21v4.27h-4.21zM1126.28,2963.62h4.21v4.27h-4.21zM1134.71,2963.62h25.27v4.27h-25.27zM1164.19,2963.62h4.21v4.27h-4.21zM1172.62,2963.62h4.21v4.27h-4.21zM1181.04,2963.62h12.64v4.27h-12.64zM1197.89,2963.62h4.21v4.27h-4.21zM1063.10,2967.84h4.21v4.27h-4.21zM1071.52,2967.84h12.64v4.27h-12.64zM1088.37,2967.84h4.21v4.27h-4.21zM1096.80,2967.84h12.64v4.27h-12.64zM1113.65,2967.84h29.48v4.27h-29.48zM1147.34,2967.84h16.85v4.27h-16.85zM1172.62,2967.84h4.21v4.27h-4.21zM1181.04,2967.84h12.64v4.27h-12.64zM1197.89,2967.84h4.21v4.27h-4.21zM1063.10,2972.05h4.21v4.27h-4.21zM1071.52,2972.05h12.64v4.27h-12.64zM1088.37,2972.05h4.21v4.27h-4.21zM1096.80,2972.05h4.21v4.27h-4.21zM1105.22,2972.05h16.85v4.27h-16.85zM1130.49,2972.05h8.42v4.27h-8.42zM1143.13,2972.05h21.06v4.27h-21.06zM1172.62,2972.05h4.21v4.27h-4.21zM1181.04,2972.05h12.64v4.27h-12.64zM1197.89,2972.05h4.21v4.27h-4.21zM1063.10,2976.26h4.21v4.27h-4.21zM1088.37,2976.26h4.21v4.27h-4.21zM1096.80,2976.26h4.21v4.27h-4.21zM1109.43,2976.26h16.85v4.27h-16.85zM1130.49,2976.26h4.21v4.27h-4.21zM1138.92,2976.26h4.21v4.27h-4.21zM1147.34,2976.26h16.85v4.27h-16.85zM1172.62,2976.26h4.21v4.27h-4.21zM1197.89,2976.26h4.21v4.27h-4.21zM1063.10,2980.47h29.48v4.27h-29.48zM1096.80,2980.47h4.21v4.27h-4.21zM1105.22,2980.47h4.21v4.27h-4.21zM1113.65,2980.47h4.21v4.27h-4.21zM1122.07,2980.47h4.21v4.27h-4.21zM1130.49,2980.47h4.21v4.27h-4.21zM1138.92,2980.47h4.21v4.27h-4.21zM1147.34,2980.47h4.21v4.27h-4.21zM1155.77,2980.47h4.21v4.27h-4.21zM1164.19,2980.47h4.21v4.27h-4.21zM1172.62,2980.47h29.48v4.27h-29.48zM1101.01,2984.68h4.21v4.27h-4.21zM1109.43,2984.68h4.21v4.27h-4.21zM1117.86,2984.68h8.42v4.27h-8.42zM1130.49,2984.68h16.85v4.27h-16.85zM1155.77,2984.68h12.64v4.27h-12.64zM1071.52,2988.90h4.21v4.27h-4.21zM1084.16,2988.90h29.48v4.27h-29.48zM1126.28,2988.90h8.42v4.27h-8.42zM1138.92,2988.90h4.21v4.27h-4.21zM1147.34,2988.90h4.21v4.27h-4.21zM1155.77,2988.90h4.21v4.27h-4.21zM1168.40,2988.90h4.21v4.27h-4.21zM1176.83,2988.90h21.06v4.27h-21.06zM1063.10,2993.11h25.27v4.27h-25.27zM1101.01,2993.11h4.21v4.27h-4.21zM1117.86,2993.11h4.21v4.27h-4.21zM1130.49,2993.11h8.42v4.27h-8.42zM1147.34,2993.11h4.21v4.27h-4.21zM1155.77,2993.11h8.42v4.27h-8.42zM1168.40,2993.11h12.64v4.27h-12.64zM1185.25,2993.11h8.42v4.27h-8.42zM1197.89,2993.11h4.21v4.27h-4.21zM1075.74,2997.32h8.42v4.27h-8.42zM1088.37,2997.32h16.85v4.27h-16.85zM1109.43,2997.32h4.21v4.27h-4.21zM1126.28,2997.32h4.21v4.27h-4.21zM1134.71,2997.32h8.42v4.27h-8.42zM1151.55,2997.32h21.06v4.27h-21.06zM1176.83,2997.32h12.64v4.27h-12.64zM1197.89,2997.32h4.21v4.27h-4.21zM1071.52,3001.53h12.64v4.27h-12.64zM1105.22,3001.53h4.21v4.27h-4.21zM1113.65,3001.53h4.21v4.27h-4.21zM1122.07,3001.53h16.85v4.27h-16.85zM1143.13,3001.53h4.21v4.27h-4.21zM1155.77,3001.53h8.42v4.27h-8.42zM1176.83,3001.53h4.21v4.27h-4.21zM1185.25,3001.53h4.21v4.27h-4.21zM1063.10,3005.75h8.42v4.27h-8.42zM1079.95,3005.75h12.64v4.27h-12.64zM1096.80,3005.75h12.64v4.27h-12.64zM1113.65,3005.75h4.21v4.27h-4.21zM1122.07,3005.75h25.27v4.27h-25.27zM1151.55,3005.75h12.64v4.27h-12.64zM1172.62,3005.75h4.21v4.27h-4.21zM1181.04,3005.75h4.21v4.27h-4.21zM1067.31,3009.96h8.42v4.27h-8.42zM1101.01,3009.96h4.21v4.27h-4.21zM1126.28,3009.96h8.42v4.27h-8.42zM1138.92,3009.96h8.42v4.27h-8.42zM1151.55,3009.96h25.27v4.27h-25.27zM1185.25,3009.96h4.21v4.27h-4.21zM1197.89,3009.96h4.21v4.27h-4.21zM1067.31,3014.17h8.42v4.27h-8.42zM1088.37,3014.17h8.42v4.27h-8.42zM1105.22,3014.17h4.21v4.27h-4.21zM1113.65,3014.17h8.42v4.27h-8.42zM1134.71,3014.17h8.42v4.27h-8.42zM1159.98,3014.17h4.21v4.27h-4.21zM1181.04,3014.17h8.42v4.27h-8.42zM1197.89,3014.17h4.21v4.27h-4.21zM1067.31,3018.38h16.85v4.27h-16.85zM1101.01,3018.38h8.42v4.27h-8.42zM1113.65,3018.38h4.21v4.27h-4.21zM1122.07,3018.38h4.21v4.27h-4.21zM1130.49,3018.38h8.42v4.27h-8.42zM1147.34,3018.38h4.21v4.27h-4.21zM1155.77,3018.38h8.42v4.27h-8.42zM1168.40,3018.38h8.42v4.27h-8.42zM1193.68,3018.38h8.42v4.27h-8.42zM1075.74,3022.59h29.48v4.27h-29.48zM1109.43,3022.59h12.64v4.27h-12.64zM1126.28,3022.59h8.42v4.27h-8.42zM1143.13,3022.59h4.21v4.27h-4.21zM1155.77,3022.59h8.42v4.27h-8.42zM1168.40,3022.59h12.64v4.27h-12.64zM1185.25,3022.59h12.64v4.27h-12.64zM1063.10,3026.81h4.21v4.27h-4.21zM1079.95,3026.81h8.42v4.27h-8.42zM1092.58,3026.81h4.21v4.27h-4.21zM1109.43,3026.81h4.21v4.27h-4.21zM1122.07,3026.81h4.21v4.27h-4.21zM1134.71,3026.81h4.21v4.27h-4.21zM1147.34,3026.81h4.21v4.27h-4.21zM1159.98,3026.81h4.21v4.27h-4.21zM1168.40,3026.81h8.42v4.27h-8.42zM1189.46,3026.81h12.64v4.27h-12.64zM1075.74,3031.02h4.21v4.27h-4.21zM1084.16,3031.02h8.42v4.27h-8.42zM1117.86,3031.02h4.21v4.27h-4.21zM1126.28,3031.02h4.21v4.27h-4.21zM1151.55,3031.02h12.64v4.27h-12.64zM1181.04,3031.02h21.06v4.27h-21.06zM1063.10,3035.23h4.21v4.27h-4.21zM1071.52,3035.23h4.21v4.27h-4.21zM1084.16,3035.23h4.21v4.27h-4.21zM1092.58,3035.23h4.21v4.27h-4.21zM1105.22,3035.23h4.21v4.27h-4.21zM1117.86,3035.23h8.42v4.27h-8.42zM1130.49,3035.23h12.64v4.27h-12.64zM1155.77,3035.23h8.42v4.27h-8.42zM1172.62,3035.23h8.42v4.27h-8.42zM1185.25,3035.23h4.21v4.27h-4.21zM1193.68,3035.23h4.21v4.27h-4.21zM1063.10,3039.44h8.42v4.27h-8.42zM1079.95,3039.44h4.21v4.27h-4.21zM1088.37,3039.44h16.85v4.27h-16.85zM1109.43,3039.44h4.21v4.27h-4.21zM1117.86,3039.44h12.64v4.27h-12.64zM1134.71,3039.44h4.21v4.27h-4.21zM1147.34,3039.44h4.21v4.27h-4.21zM1159.98,3039.44h4.21v4.27h-4.21zM1176.83,3039.44h4.21v4.27h-4.21zM1193.68,3039.44h8.42v4.27h-8.42zM1079.95,3043.65h4.21v4.27h-4.21zM1105.22,3043.65h16.85v4.27h-16.85zM1134.71,3043.65h8.42v4.27h-8.42zM1155.77,3043.65h4.21v4.27h-4.21zM1176.83,3043.65h4.21v4.27h-4.21zM1189.46,3043.65h4.21v4.27h-4.21zM1197.89,3043.65h4.21v4.27h-4.21zM1063.10,3047.87h12.64v4.27h-12.64zM1079.95,3047.87h12.64v4.27h-12.64zM1096.80,3047.87h8.42v4.27h-8.42zM1113.65,3047.87h4.21v4.27h-4.21zM1126.28,3047.87h4.21v4.27h-4.21zM1134.71,3047.87h4.21v4.27h-4.21zM1151.55,3047.87h12.64v4.27h-12.64zM1168.40,3047.87h8.42v4.27h-8.42zM1189.46,3047.87h12.64v4.27h-12.64zM1071.52,3052.08h8.42v4.27h-8.42zM1084.16,3052.08h4.21v4.27h-4.21zM1092.58,3052.08h16.85v4.27h-16.85zM1113.65,3052.08h4.21v4.27h-4.21zM1122.07,3052.08h4.21v4.27h-4.21zM1134.71,3052.08h4.21v4.27h-4.21zM1143.13,3052.08h4.21v4.27h-4.21zM1176.83,3052.08h4.21v4.27h-4.21zM1185.25,3052.08h4.21v4.27h-4.21zM1197.89,3052.08h4.21v4.27h-4.21zM1063.10,3056.29h12.64v4.27h-12.64zM1084.16,3056.29h8.42v4.27h-8.42zM1096.80,3056.29h4.21v4.27h-4.21zM1109.43,3056.29h4.21v4.27h-4.21zM1138.92,3056.29h4.21v4.27h-4.21zM1155.77,3056.29h33.70v4.27h-33.70zM1193.68,3056.29h8.42v4.27h-8.42zM1096.80,3060.50h8.42v4.27h-8.42zM1109.43,3060.50h8.42v4.27h-8.42zM1122.07,3060.50h8.42v4.27h-8.42zM1138.92,3060.50h4.21v4.27h-4.21zM1147.34,3060.50h21.06v4.27h-21.06zM1181.04,3060.50h4.21v4.27h-4.21zM1197.89,3060.50h4.21v4.27h-4.21zM1063.10,3064.72h29.48v4.27h-29.48zM1096.80,3064.72h8.42v4.27h-8.42zM1109.43,3064.72h12.64v4.27h-12.64zM1126.28,3064.72h12.64v4.27h-12.64zM1147.34,3064.72h4.21v4.27h-4.21zM1164.19,3064.72h4.21v4.27h-4.21zM1172.62,3064.72h4.21v4.27h-4.21zM1181.04,3064.72h8.42v4.27h-8.42zM1197.89,3064.72h4.21v4.27h-4.21zM1063.10,3068.93h4.21v4.27h-4.21zM1088.37,3068.93h4.21v4.27h-4.21zM1096.80,3068.93h4.21v4.27h-4.21zM1105.22,3068.93h4.21v4.27h-4.21zM1117.86,3068.93h8.42v4.27h-8.42zM1130.49,3068.93h4.21v4.27h-4.21zM1143.13,3068.93h12.64v4.27h-12.64zM1164.19,3068.93h4.21v4.27h-4.21zM1181.04,3068.93h8.42v4.27h-8.42zM1193.68,3068.93h8.42v4.27h-8.42zM1063.10,3073.14h4.21v4.27h-4.21zM1071.52,3073.14h12.64v4.27h-12.64zM1088.37,3073.14h4.21v4.27h-4.21zM1105.22,3073.14h37.91v4.27h-37.91zM1151.55,3073.14h4.21v4.27h-4.21zM1159.98,3073.14h25.27v4.27h-25.27zM1063.10,3077.35h4.21v4.27h-4.21zM1071.52,3077.35h12.64v4.27h-12.64zM1088.37,3077.35h4.21v4.27h-4.21zM1101.01,3077.35h12.64v4.27h-12.64zM1130.49,3077.35h4.21v4.27h-4.21zM1143.13,3077.35h4.21v4.27h-4.21zM1151.55,3077.35h4.21v4.27h-4.21zM1164.19,3077.35h8.42v4.27h-8.42zM1176.83,3077.35h21.06v4.27h-21.06zM1063.10,3081.56h4.21v4.27h-4.21zM1071.52,3081.56h12.64v4.27h-12.64zM1088.37,3081.56h4.21v4.27h-4.21zM1096.80,3081.56h4.21v4.27h-4.21zM1105.22,3081.56h4.21v4.27h-4.21zM1113.65,3081.56h4.21v4.27h-4.21zM1122.07,3081.56h8.42v4.27h-8.42zM1134.71,3081.56h4.21v4.27h-4.21zM1143.13,3081.56h8.42v4.27h-8.42zM1159.98,3081.56h8.42v4.27h-8.42zM1181.04,3081.56h8.42v4.27h-8.42zM1193.68,3081.56h8.42v4.27h-8.42zM1063.10,3085.78h4.21v4.27h-4.21zM1088.37,3085.78h4.21v4.27h-4.21zM1101.01,3085.78h4.21v4.27h-4.21zM1113.65,3085.78h4.21v4.27h-4.21zM1134.71,3085.78h4.21v4.27h-4.21zM1143.13,3085.78h8.42v4.27h-8.42zM1155.77,3085.78h16.85v4.27h-16.85zM1185.25,3085.78h8.42v4.27h-8.42zM1063.10,3089.99h29.48v4.27h-29.48zM1101.01,3089.99h8.42v4.27h-8.42zM1113.65,3089.99h8.42v4.27h-8.42zM1126.28,3089.99h4.21v4.27h-4.21zM1134.71,3089.99h4.21v4.27h-4.21zM1164.19,3089.99h12.64v4.27h-12.64zM1181.04,3089.99h12.64v4.27h-12.64zM1197.89,3089.99h4.21v4.27h-4.21z"/>
<path fill="#2b2a29" d="M1279.35,2955.20h29.48v4.27h-29.48zM1321.47,2955.20h4.21v4.27h-4.21zM1334.11,2955.20h8.42v4.27h-8.42zM1367.80,2955.20h4.21v4.27h-4.21zM1376.23,2955.20h8.42v4.27h-8.42zM1388.87,2955.20h29.48v4.27h-29.48zM1279.35,2959.41h4.21v4.27h-4.21zM1304.62,2959.41h4.21v4.27h-4.21zM1321.47,2959.41h4.21v4.27h-4.21zM1329.90,2959.41h4.21v4.27h-4.21zM1338.32,2959.41h12.64v4.27h-12.64zM1359.38,2959.41h8.42v4.27h-8.42zM1372.02,2959.41h8.42v4.27h-8.42zM1388.87,2959.41h4.21v4.27h-4.21zM1414.14,2959.41h4.21v4.27h-4.21zM1279.35,2963.62h4.21v4.27h-4.21zM1287.77,2963.62h12.64v4.27h-12.64zM1304.62,2963.62h4.21v4.27h-4.21zM1317.26,2963.62h4.21v4.27h-4.21zM1325.68,2963.62h4.21v4.27h-4.21zM1338.32,2963.62h4.21v4.27h-4.21zM1359.38,2963.62h4.21v4.27h-4.21zM1372.02,2963.62h8.42v4.27h-8.42zM1388.87,2963.62h4.21v4.27h-4.21zM1397.29,2963.62h12.64v4.27h-12.64zM1414.14,2963.62h4.21v4.27h-4.21zM1279.35,2967.84h4.21v4.27h-4.21zM1287.77,2967.84h12.64v4.27h-12.64zM1304.62,2967.84h4.21v4.27h-4.21zM1321.47,2967.84h4.21v4.27h-4.21zM1334.11,2967.84h8.42v4.27h-8.42zM1350.96,2967.84h4.21v4.27h-4.21zM1372.02,2967.84h12.64v4.27h-12.64zM1388.87,2967.84h4.21v4.27h-4.21zM1397.29,2967.84h12.64v4.27h-12.64zM1414.14,2967.84h4.21v4.27h-4.21zM1279.35,2972.05h4.21v4.27h-4.21zM1287.77,2972.05h12.64v4.27h-12.64zM1304.62,2972.05h4.21v4.27h-4.21zM1313.05,2972.05h8.42v4.27h-8.42zM1346.74,2972.05h21.06v4.27h-21.06zM1376.23,2972.05h8.42v4.27h-8.42zM1388.87,2972.05h4.21v4.27h-4.21zM1397.29,2972.05h12.64v4.27h-12.64zM1414.14,2972.05h4.21v4.27h-4.21zM1279.35,2976.26h4.21v4.27h-4.21zM1304.62,2976.26h4.21v4.27h-4.21zM1321.47,2976.26h12.64v4.27h-12.64zM1338.32,2976.26h12.64v4.27h-12.64zM1355.17,2976.26h8.42v4.27h-8.42zM1367.80,2976.26h4.21v4.27h-4.21zM1376.23,2976.26h4.21v4.27h-4.21zM1388.87,2976.26h4.21v4.27h-4.21zM1414.14,2976.26h4.21v4.27h-4.21zM1279.35,2980.47h29.48v4.27h-29.48zM1313.05,2980.47h4.21v4.27h-4.21zM1321.47,2980.47h4.21v4.27h-4.21zM1329.90,2980.47h4.21v4.27h-4.21zM1338.32,2980.47h4.21v4.27h-4.21zM1346.74,2980.47h4.21v4.27h-4.21zM1355.17,2980.47h4.21v4.27h-4.21zM1363.59,2980.47h4.21v4.27h-4.21zM1372.02,2980.47h4.21v4.27h-4.21zM1380.44,2980.47h4.21v4.27h-4.21zM1388.87,2980.47h29.48v4.27h-29.48zM1313.05,2984.68h8.42v4.27h-8.42zM1334.11,2984.68h4.21v4.27h-4.21zM1346.74,2984.68h4.21v4.27h-4.21zM1355.17,2984.68h8.42v4.27h-8.42zM1372.02,2984.68h4.21v4.27h-4.21zM1380.44,2984.68h4.21v4.27h-4.21zM1287.77,2988.90h8.42v4.27h-8.42zM1304.62,2988.90h12.64v4.27h-12.64zM1321.47,2988.90h12.64v4.27h-12.64zM1338.32,2988.90h16.85v4.27h-16.85zM1359.38,2988.90h4.21v4.27h-4.21zM1367.80,2988.90h25.27v4.27h-25.27zM1397.29,2988.90h4.21v4.27h-4.21zM1283.56,2993.11h8.42v4.27h-8.42zM1296.20,2993.11h8.42v4.27h-8.42zM1329.90,2993.11h4.21v4.27h-4.21zM1342.53,2993.11h16.85v4.27h-16.85zM1363.59,2993.11h29.48v4.27h-29.48zM1401.50,2993.11h4.21v4.27h-4.21zM1414.14,2993.11h4.21v4.27h-4.21zM1279.35,2997.32h8.42v4.27h-8.42zM1304.62,2997.32h4.21v4.27h-4.21zM1313.05,2997.32h4.21v4.27h-4.21zM1321.47,2997.32h21.06v4.27h-21.06zM1346.74,2997.32h16.85v4.27h-16.85zM1376.23,2997.32h4.21v4.27h-4.21zM1401.50,2997.32h16.85v4.27h-16.85zM1283.56,3001.53h12.64v4.27h-12.64zM1308.83,3001.53h4.21v4.27h-4.21zM1317.26,3001.53h8.42v4.27h-8.42zM1329.90,3001.53h4.21v4.27h-4.21zM1338.32,3001.53h8.42v4.27h-8.42zM1350.96,3001.53h4.21v4.27h-4.21zM1376.23,3001.53h4.21v4.27h-4.21zM1384.65,3001.53h4.21v4.27h-4.21zM1393.08,3001.53h12.64v4.27h-12.64zM1409.93,3001.53h4.21v4.27h-4.21zM1279.35,3005.75h4.21v4.27h-4.21zM1287.77,3005.75h4.21v4.27h-4.21zM1304.62,3005.75h42.12v4.27h-42.12zM1363.59,3005.75h8.42v4.27h-8.42zM1384.65,3005.75h4.21v4.27h-4.21zM1401.50,3005.75h4.21v4.27h-4.21zM1409.93,3005.75h8.42v4.27h-8.42zM1283.56,3009.96h4.21v4.27h-4.21zM1291.99,3009.96h4.21v4.27h-4.21zM1300.41,3009.96h4.21v4.27h-4.21zM1317.26,3009.96h4.21v4.27h-4.21zM1325.68,3009.96h4.21v4.27h-4.21zM1342.53,3009.96h33.70v4.27h-33.70zM1380.44,3009.96h8.42v4.27h-8.42zM1279.35,3014.17h12.64v4.27h-12.64zM1300.41,3014.17h8.42v4.27h-8.42zM1317.26,3014.17h12.64v4.27h-12.64zM1334.11,3014.17h12.64v4.27h-12.64zM1363.59,3014.17h8.42v4.27h-8.42zM1380.44,3014.17h4.21v4.27h-4.21zM1388.87,3014.17h21.06v4.27h-21.06zM1279.35,3018.38h8.42v4.27h-8.42zM1296.20,3018.38h4.21v4.27h-4.21zM1321.47,3018.38h4.21v4.27h-4.21zM1338.32,3018.38h21.06v4.27h-21.06zM1363.59,3018.38h33.70v4.27h-33.70zM1405.71,3018.38h12.64v4.27h-12.64zM1279.35,3022.59h12.64v4.27h-12.64zM1300.41,3022.59h16.85v4.27h-16.85zM1321.47,3022.59h8.42v4.27h-8.42zM1355.17,3022.59h4.21v4.27h-4.21zM1367.80,3022.59h4.21v4.27h-4.21zM1376.23,3022.59h8.42v4.27h-8.42zM1388.87,3022.59h4.21v4.27h-4.21zM1397.29,3022.59h8.42v4.27h-8.42zM1283.56,3026.81h4.21v4.27h-4.21zM1300.41,3026.81h4.21v4.27h-4.21zM1321.47,3026.81h8.42v4.27h-8.42zM1334.11,3026.81h8.42v4.27h-8.42zM1346.74,3026.81h8.42v4.27h-8.42zM1359.38,3026.81h8.42v4.27h-8.42zM1372.02,3026.81h8.42v4.27h-8.42zM1388.87,3026.81h4.21v4.27h-4.21zM1397.29,3026.81h4.21v4.27h-4.21zM1405.71,3026.81h4.21v4.27h-4.21zM1414.14,3026.81h4.21v4.27h-4.21zM1279.35,3031.02h4.21v4.27h-4.21zM1287.77,3031.02h8.42v4.27h-8.42zM1304.62,3031.02h12.64v4.27h-12.64zM1321.47,3031.02h8.42v4.27h-8.42zM1338.32,3031.02h16.85v4.27h-16.85zM1359.38,3031.02h12.64v4.27h-12.64zM1384.65,3031.02h8.42v4.27h-8.42zM1405.71,3031.02h4.21v4.27h-4.21zM1296.20,3035.23h8.42v4.27h-8.42zM1308.83,3035.23h8.42v4.27h-8.42zM1321.47,3035.23h8.42v4.27h-8.42zM1334.11,3035.23h4.21v4.27h-4.21zM1346.74,3035.23h4.21v4.27h-4.21zM1355.17,3035.23h4.21v4.27h-4.21zM1363.59,3035.23h4.21v4.27h-4.21zM1372.02,3035.23h4.21v4.27h-4.21zM1393.08,3035.23h4.21v4.27h-4.21zM1409.93,3035.23h8.42v4.27h-8.42zM1287.77,3039.44h25.27v4.27h-25.27zM1329.90,3039.44h8.42v4.27h-8.42zM1346.74,3039.44h4.21v4.27h-4.21zM1355.17,3039.44h4.21v4.27h-4.21zM1363.59,3039.44h8.42v4.27h-8.42zM1380.44,3039.44h4.21v4.27h-4.21zM1388.87,3039.44h4.21v4.27h-4.21zM1401.50,3039.44h12.64v4.27h-12.64zM1279.35,3043.65h8.42v4.27h-8.42zM1291.99,3043.65h8.42v4.27h-8.42zM1317.26,3043.65h8.42v4.27h-8.42zM1329.90,3043.65h8.42v4.27h-8.42zM1342.53,3043.65h4.21v4.27h-4.21zM1350.96,3043.65h4.21v4.27h-4.21zM1359.38,3043.65h4.21v4.27h-4.21zM1367.80,3043.65h8.42v4.27h-8.42zM1380.44,3043.65h4.21v4.27h-4.21zM1414.14,3043.65h4.21v4.27h-4.21zM1287.77,3047.87h8.42v4.27h-8.42zM1300.41,3047.87h16.85v4.27h-16.85zM1321.47,3047.87h16.85v4.27h-16.85zM1350.96,3047.87h8.42v4.27h-8.42zM1363.59,3047.87h4.21v4.27h-4.21zM1376.23,3047.87h8.42v4.27h-8.42zM1388.87,3047.87h12.64v4.27h-12.64zM1414.14,3047.87h4.21v4.27h-4.21zM1283.56,3052.08h21.06v4.27h-21.06zM1313.05,3052.08h8.42v4.27h-8.42zM1325.68,3052.08h16.85v4.27h-16.85zM1350.96,3052.08h4.21v4.27h-4.21zM1372.02,3052.08h4.21v4.27h-4.21zM1384.65,3052.08h4.21v4.27h-4.21zM1393.08,3052.08h12.64v4.27h-12.64zM1409.93,3052.08h8.42v4.27h-8.42zM1279.35,3056.29h4.21v4.27h-4.21zM1296.20,3056.29h4.21v4.27h-4.21zM1304.62,3056.29h8.42v4.27h-8.42zM1321.47,3056.29h4.21v4.27h-4.21zM1334.11,3056.29h33.70v4.27h-33.70zM1380.44,3056.29h21.06v4.27h-21.06zM1313.05,3060.50h4.21v4.27h-4.21zM1329.90,3060.50h4.21v4.27h-4.21zM1342.53,3060.50h4.21v4.27h-4.21zM1355.17,3060.50h4.21v4.27h-4.21zM1367.80,3060.50h8.42v4.27h-8.42zM1380.44,3060.50h4.21v4.27h-4.21zM1397.29,3060.50h8.42v4.27h-8.42zM1279.35,3064.72h29.48v4.27h-29.48zM1313.05,3064.72h8.42v4.27h-8.42zM1338.32,3064.72h4.21v4.27h-4.21zM1346.74,3064.72h4.21v4.27h-4.21zM1367.80,3064.72h4.21v4.27h-4.21zM1376.23,3064.72h8.42v4.27h-8.42zM1388.87,3064.72h4.21v4.27h-4.21zM1397.29,3064.72h4.21v4.27h-4.21zM1405.71,3064.72h4.21v4.27h-4.21zM1279.35,3068.93h4.21v4.27h-4.21zM1304.62,3068.93h4.21v4.27h-4.21zM1321.47,3068.93h4.21v4.27h-4.21zM1329.90,3068.93h4.21v4.27h-4.21zM1338.32,3068.93h29.48v4.27h-29.48zM1380.44,3068.93h4.21v4.27h-4.21zM1397.29,3068.93h21.06v4.27h-21.06zM1279.35,3073.14h4.21v4.27h-4.21zM1287.77,3073.14h12.64v4.27h-12.64zM1304.62,3073.14h4.21v4.27h-4.21zM1317.26,3073.14h12.64v4.27h-12.64zM1334.11,3073.14h8.42v4.27h-8.42zM1350.96,3073.14h12.64v4.27h-12.64zM1372.02,3073.14h29.48v4.27h-29.48zM1405.71,3073.14h8.42v4.27h-8.42zM1279.35,3077.35h4.21v4.27h-4.21zM1287.77,3077.35h12.64v4.27h-12.64zM1304.62,3077.35h4.21v4.27h-4.21zM1313.05,3077.35h16.85v4.27h-16.85zM1334.11,3077.35h8.42v4.27h-8.42zM1355.17,3077.35h4.21v4.27h-4.21zM1367.80,3077.35h8.42v4.27h-8.42zM1380.44,3077.35h4.21v4.27h-4.21zM1393.08,3077.35h4.21v4.27h-4.21zM1401.50,3077.35h8.42v4.27h-8.42zM1279.35,3081.56h4.21v4.27h-4.21zM1287.77,3081.56h12.64v4.27h-12.64zM1304.62,3081.56h4.21v4.27h-4.21zM1313.05,3081.56h4.21v4.27h-4.21zM1325.68,3081.56h12.64v4.27h-12.64zM1342.53,3081.56h8.42v4.27h-8.42zM1372.02,3081.56h4.21v4.27h-4.21zM1380.44,3081.56h12.64v4.27h-12.64zM1279.35,3085.78h4.21v4.27h-4.21zM1304.62,3085.78h4.21v4.27h-4.21zM1317.26,3085.78h4.21v4.27h-4.21zM1325.68,3085.78h8.42v4.27h-8.42zM1338.32,3085.78h4.21v4.27h-4.21zM1359.38,3085.78h4.21v4.27h-4.21zM1372.02,3085.78h4.21v4.27h-4.21zM1380.44,3085.78h12.64v4.27h-12.64zM1405.71,3085.78h4.21v4.27h-4.21zM1414.14,3085.78h4.21v4.27h-4.21zM1279.35,3089.99h29.48v4.27h-29.48zM1321.47,3089.99h8.42v4.27h-8.42zM1334.11,3089.99h8.42v4.27h-8.42zM1355.17,3089.99h4.21v4.27h-4.21zM1363.59,3089.99h8.42v4.27h-8.42zM1376.23,3089.99h4.21v4.27h-4.21zM1384.65,3089.99h4.21v4.27h-4.21zM1393.08,3089.99h8.42v4.27h-8.42z"/>
</svg></body></html>
